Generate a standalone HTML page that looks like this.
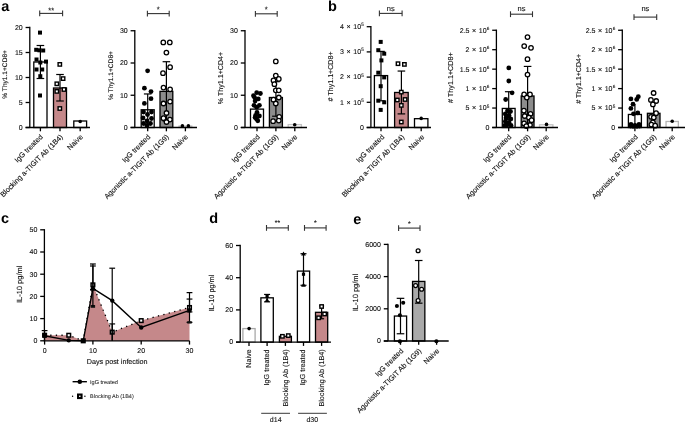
<!DOCTYPE html>
<html><head><meta charset="utf-8"><style>
html,body{margin:0;padding:0;background:#fff;overflow:hidden;}
svg{display:block;will-change:transform;font-family:"Liberation Sans", sans-serif;text-rendering:geometricPrecision;}
</style></head><body>
<svg width="685" height="422" viewBox="0 0 685 422">
<rect width="685" height="422" fill="#fff"/>
<text x="1.3" y="10.6" font-size="14.5" text-anchor="start" font-weight="bold" fill="#000">a</text>
<text x="328.1" y="10.8" font-size="14.5" text-anchor="start" font-weight="bold" fill="#000">b</text>
<text x="1.1" y="223.3" font-size="14.5" text-anchor="start" font-weight="bold" fill="#000">c</text>
<text x="209.3" y="223.3" font-size="14.5" text-anchor="start" font-weight="bold" fill="#000">d</text>
<text x="353.2" y="223.5" font-size="14.5" text-anchor="start" font-weight="bold" fill="#000">e</text>
<rect x="33.8" y="62.0" width="13.2" height="65.5" fill="#fff" stroke="#000" stroke-width="1.3"/>
<rect x="53.5" y="88.0" width="13.0" height="39.5" fill="#c5888a" stroke="#000" stroke-width="1.3"/>
<rect x="73.8" y="121.0" width="12.8" height="6.5" fill="#fff" stroke="#000" stroke-width="1.3"/>
<line x1="40.4" y1="78.5" x2="40.4" y2="45.5" stroke="#000" stroke-width="1.2"/>
<line x1="36.6" y1="45.5" x2="44.199999999999996" y2="45.5" stroke="#000" stroke-width="1.2"/>
<line x1="36.6" y1="78.5" x2="44.199999999999996" y2="78.5" stroke="#000" stroke-width="1.2"/>
<rect x="38.00" y="30.60" width="4.0" height="4.0" fill="#000"/>
<rect x="34.20" y="47.80" width="4.0" height="4.0" fill="#000"/>
<rect x="41.20" y="48.50" width="4.0" height="4.0" fill="#000"/>
<rect x="37.40" y="48.30" width="4.0" height="4.0" fill="#000"/>
<rect x="34.50" y="57.50" width="4.0" height="4.0" fill="#000"/>
<rect x="44.00" y="59.60" width="4.0" height="4.0" fill="#000"/>
<rect x="34.50" y="67.50" width="4.0" height="4.0" fill="#000"/>
<rect x="40.20" y="67.50" width="4.0" height="4.0" fill="#000"/>
<rect x="38.30" y="74.20" width="4.0" height="4.0" fill="#000"/>
<rect x="38.00" y="93.50" width="4.0" height="4.0" fill="#000"/>
<rect x="38.30" y="60.50" width="4.0" height="4.0" fill="#000"/>
<line x1="60.0" y1="101.0" x2="60.0" y2="74.5" stroke="#000" stroke-width="1.2"/>
<line x1="56.2" y1="74.5" x2="63.8" y2="74.5" stroke="#000" stroke-width="1.2"/>
<line x1="56.2" y1="101.0" x2="63.8" y2="101.0" stroke="#000" stroke-width="1.2"/>
<rect x="58.10" y="62.70" width="3.4" height="3.4" fill="#fff" stroke="#000" stroke-width="1.4"/>
<rect x="61.40" y="76.90" width="3.4" height="3.4" fill="#fff" stroke="#000" stroke-width="1.4"/>
<rect x="55.10" y="82.10" width="3.4" height="3.4" fill="#fff" stroke="#000" stroke-width="1.4"/>
<rect x="62.30" y="87.80" width="3.4" height="3.4" fill="#fff" stroke="#000" stroke-width="1.4"/>
<rect x="55.10" y="89.70" width="3.4" height="3.4" fill="#fff" stroke="#000" stroke-width="1.4"/>
<rect x="58.10" y="106.80" width="3.4" height="3.4" fill="#fff" stroke="#000" stroke-width="1.4"/>
<line x1="29.8" y1="26.85" x2="29.8" y2="127.5" stroke="#000" stroke-width="1.3"/>
<line x1="25.6" y1="127.5" x2="29.8" y2="127.5" stroke="#000" stroke-width="1.3"/>
<text x="22.700000000000003" y="129.88" font-size="7" text-anchor="end" font-weight="normal" fill="#111" stroke="#111" stroke-width="0.12">0</text>
<line x1="25.6" y1="102.5" x2="29.8" y2="102.5" stroke="#000" stroke-width="1.3"/>
<text x="22.700000000000003" y="104.88" font-size="7" text-anchor="end" font-weight="normal" fill="#111" stroke="#111" stroke-width="0.12">5</text>
<line x1="25.6" y1="77.5" x2="29.8" y2="77.5" stroke="#000" stroke-width="1.3"/>
<text x="22.700000000000003" y="79.88" font-size="7" text-anchor="end" font-weight="normal" fill="#111" stroke="#111" stroke-width="0.12">10</text>
<line x1="25.6" y1="52.5" x2="29.8" y2="52.5" stroke="#000" stroke-width="1.3"/>
<text x="22.700000000000003" y="54.88" font-size="7" text-anchor="end" font-weight="normal" fill="#111" stroke="#111" stroke-width="0.12">15</text>
<line x1="25.6" y1="27.5" x2="29.8" y2="27.5" stroke="#000" stroke-width="1.3"/>
<text x="22.700000000000003" y="29.88" font-size="7" text-anchor="end" font-weight="normal" fill="#111" stroke="#111" stroke-width="0.12">20</text>
<line x1="25.6" y1="127.5" x2="90" y2="127.5" stroke="#000" stroke-width="1.3"/>
<line x1="40.4" y1="127.5" x2="40.4" y2="131.3" stroke="#000" stroke-width="1.3"/>
<line x1="60.0" y1="127.5" x2="60.0" y2="131.3" stroke="#000" stroke-width="1.3"/>
<line x1="80.2" y1="127.5" x2="80.2" y2="131.3" stroke="#000" stroke-width="1.3"/>
<circle cx="80.20" cy="121.50" r="1.8" fill="#000"/>
<text x="7.5" y="74.4" font-size="6.6" text-anchor="middle" font-weight="normal" fill="#111" stroke="#111" stroke-width="0.12" transform="rotate(-90 7.5 74.4)">% Thy1.1+CD8+</text>
<line x1="39.7" y1="13.4" x2="62.6" y2="13.4" stroke="#333" stroke-width="1.1"/>
<line x1="39.7" y1="10.5" x2="39.7" y2="16.3" stroke="#333" stroke-width="1.1"/>
<line x1="62.6" y1="10.5" x2="62.6" y2="16.3" stroke="#333" stroke-width="1.1"/>
<text x="51.150000000000006" y="12.7" font-size="7.5" text-anchor="middle" font-weight="normal" fill="#111" stroke="#111" stroke-width="0.12">**</text>
<text x="43.3" y="137.3" font-size="7.3" text-anchor="end" font-weight="normal" fill="#111" stroke="#111" stroke-width="0.12" transform="rotate(-45 43.3 137.3)">IgG treated</text>
<text x="63.3" y="137.3" font-size="7.3" text-anchor="end" font-weight="normal" fill="#111" stroke="#111" stroke-width="0.12" transform="rotate(-45 63.3 137.3)">Blocking a-TIGIT Ab (1B4)</text>
<text x="83.3" y="137.3" font-size="7.3" text-anchor="end" font-weight="normal" fill="#111" stroke="#111" stroke-width="0.12" transform="rotate(-45 83.3 137.3)">Naive</text>
<rect x="141.2" y="109.7625" width="13.0" height="17.737499999999997" fill="#fff" stroke="#000" stroke-width="1.3"/>
<rect x="160.0" y="91.38" width="12.8" height="36.120000000000005" fill="#8c8c8c" stroke="#000" stroke-width="1.3"/>
<rect x="179.0" y="126.04875" width="12.8" height="1.4512500000000017" fill="#e0e0e0" stroke="#c4c4c4" stroke-width="1.3"/>
<line x1="147.7" y1="124.275" x2="147.7" y2="93.96000000000001" stroke="#000" stroke-width="1.2"/>
<line x1="143.89999999999998" y1="93.96000000000001" x2="151.5" y2="93.96000000000001" stroke="#000" stroke-width="1.2"/>
<line x1="143.89999999999998" y1="124.275" x2="151.5" y2="124.275" stroke="#000" stroke-width="1.2"/>
<circle cx="147.60" cy="70.80" r="2.4" fill="#000"/>
<circle cx="144.40" cy="88.20" r="2.4" fill="#000"/>
<circle cx="151.00" cy="91.60" r="2.4" fill="#000"/>
<circle cx="151.00" cy="98.70" r="2.4" fill="#000"/>
<circle cx="144.40" cy="103.40" r="2.4" fill="#000"/>
<circle cx="143.50" cy="112.00" r="2.4" fill="#000"/>
<circle cx="151.50" cy="112.00" r="2.4" fill="#000"/>
<circle cx="147.50" cy="114.50" r="2.4" fill="#000"/>
<circle cx="143.00" cy="118.00" r="2.4" fill="#000"/>
<circle cx="151.50" cy="118.50" r="2.4" fill="#000"/>
<circle cx="147.00" cy="121.00" r="2.4" fill="#000"/>
<circle cx="143.50" cy="123.50" r="2.4" fill="#000"/>
<circle cx="150.50" cy="123.50" r="2.4" fill="#000"/>
<circle cx="147.00" cy="125.50" r="2.4" fill="#000"/>
<line x1="166.4" y1="121.05" x2="166.4" y2="61.71000000000001" stroke="#000" stroke-width="1.2"/>
<line x1="162.6" y1="61.71000000000001" x2="170.20000000000002" y2="61.71000000000001" stroke="#000" stroke-width="1.2"/>
<line x1="162.6" y1="121.05" x2="170.20000000000002" y2="121.05" stroke="#000" stroke-width="1.2"/>
<circle cx="163.30" cy="42.40" r="2.25" fill="#fff" stroke="#000" stroke-width="1.3"/>
<circle cx="169.80" cy="42.40" r="2.25" fill="#fff" stroke="#000" stroke-width="1.3"/>
<circle cx="166.40" cy="52.60" r="2.25" fill="#fff" stroke="#000" stroke-width="1.3"/>
<circle cx="170.10" cy="67.20" r="2.25" fill="#fff" stroke="#000" stroke-width="1.3"/>
<circle cx="163.00" cy="73.20" r="2.25" fill="#fff" stroke="#000" stroke-width="1.3"/>
<circle cx="163.50" cy="87.60" r="2.25" fill="#fff" stroke="#000" stroke-width="1.3"/>
<circle cx="170.10" cy="89.30" r="2.25" fill="#fff" stroke="#000" stroke-width="1.3"/>
<circle cx="170.10" cy="101.60" r="2.25" fill="#fff" stroke="#000" stroke-width="1.3"/>
<circle cx="163.50" cy="103.50" r="2.25" fill="#fff" stroke="#000" stroke-width="1.3"/>
<circle cx="166.50" cy="113.00" r="2.25" fill="#fff" stroke="#000" stroke-width="1.3"/>
<circle cx="163.50" cy="118.20" r="2.25" fill="#fff" stroke="#000" stroke-width="1.3"/>
<circle cx="169.90" cy="119.60" r="2.25" fill="#fff" stroke="#000" stroke-width="1.3"/>
<circle cx="166.50" cy="122.00" r="2.25" fill="#fff" stroke="#000" stroke-width="1.3"/>
<circle cx="182.40" cy="125.90" r="1.8" fill="#000"/>
<circle cx="188.40" cy="125.90" r="1.8" fill="#000"/>
<line x1="134.8" y1="30.1" x2="134.8" y2="127.5" stroke="#000" stroke-width="1.3"/>
<line x1="130.60000000000002" y1="127.5" x2="134.8" y2="127.5" stroke="#000" stroke-width="1.3"/>
<text x="127.70000000000002" y="129.88" font-size="7" text-anchor="end" font-weight="normal" fill="#111" stroke="#111" stroke-width="0.12">0</text>
<line x1="130.60000000000002" y1="95.25" x2="134.8" y2="95.25" stroke="#000" stroke-width="1.3"/>
<text x="127.70000000000002" y="97.63" font-size="7" text-anchor="end" font-weight="normal" fill="#111" stroke="#111" stroke-width="0.12">10</text>
<line x1="130.60000000000002" y1="63.0" x2="134.8" y2="63.0" stroke="#000" stroke-width="1.3"/>
<text x="127.70000000000002" y="65.38" font-size="7" text-anchor="end" font-weight="normal" fill="#111" stroke="#111" stroke-width="0.12">20</text>
<line x1="130.60000000000002" y1="30.75" x2="134.8" y2="30.75" stroke="#000" stroke-width="1.3"/>
<text x="127.70000000000002" y="33.13" font-size="7" text-anchor="end" font-weight="normal" fill="#111" stroke="#111" stroke-width="0.12">30</text>
<line x1="130.60000000000002" y1="127.5" x2="197" y2="127.5" stroke="#000" stroke-width="1.3"/>
<line x1="147.7" y1="127.5" x2="147.7" y2="131.3" stroke="#000" stroke-width="1.3"/>
<line x1="166.4" y1="127.5" x2="166.4" y2="131.3" stroke="#000" stroke-width="1.3"/>
<line x1="185.4" y1="127.5" x2="185.4" y2="131.3" stroke="#000" stroke-width="1.3"/>
<text x="113.1" y="75.5" font-size="6.65" text-anchor="middle" font-weight="normal" fill="#111" stroke="#111" stroke-width="0.12" transform="rotate(-90 113.1 75.5)">% Thy1.1+CD8+</text>
<line x1="147.4" y1="13.6" x2="169.2" y2="13.6" stroke="#333" stroke-width="1.1"/>
<line x1="147.4" y1="10.7" x2="147.4" y2="16.5" stroke="#333" stroke-width="1.1"/>
<line x1="169.2" y1="10.7" x2="169.2" y2="16.5" stroke="#333" stroke-width="1.1"/>
<text x="158.3" y="12.4" font-size="7.5" text-anchor="middle" font-weight="normal" fill="#111" stroke="#111" stroke-width="0.12">*</text>
<text x="150.8" y="137.3" font-size="7.3" text-anchor="end" font-weight="normal" fill="#111" stroke="#111" stroke-width="0.12" transform="rotate(-45 150.8 137.3)">IgG treated</text>
<text x="169.3" y="137.3" font-size="7.3" text-anchor="end" font-weight="normal" fill="#111" stroke="#111" stroke-width="0.12" transform="rotate(-45 169.3 137.3)">Agonistic a-TIGIT Ab (1G9)</text>
<text x="188.3" y="137.3" font-size="7.3" text-anchor="end" font-weight="normal" fill="#111" stroke="#111" stroke-width="0.12" transform="rotate(-45 188.3 137.3)">Naive</text>
<rect x="250.5" y="109.1175" width="13.0" height="18.382499999999993" fill="#fff" stroke="#000" stroke-width="1.3"/>
<rect x="269.4" y="97.5075" width="13.0" height="29.992500000000007" fill="#8c8c8c" stroke="#000" stroke-width="1.3"/>
<rect x="288.2" y="124.5975" width="13.2" height="2.9025000000000034" fill="#fff" stroke="#c4c4c4" stroke-width="1.3"/>
<circle cx="256.70" cy="92.70" r="2.4" fill="#000"/>
<circle cx="260.40" cy="93.50" r="2.4" fill="#000"/>
<circle cx="253.50" cy="95.70" r="2.4" fill="#000"/>
<circle cx="254.50" cy="97.30" r="2.4" fill="#000"/>
<circle cx="258.30" cy="98.90" r="2.4" fill="#000"/>
<circle cx="255.10" cy="101.00" r="2.4" fill="#000"/>
<circle cx="254.00" cy="105.30" r="2.4" fill="#000"/>
<circle cx="259.40" cy="105.30" r="2.4" fill="#000"/>
<circle cx="256.70" cy="107.20" r="2.4" fill="#000"/>
<circle cx="255.60" cy="115.40" r="2.4" fill="#000"/>
<circle cx="259.40" cy="116.00" r="2.4" fill="#000"/>
<circle cx="256.70" cy="119.20" r="2.4" fill="#000"/>
<circle cx="255.10" cy="117.60" r="2.4" fill="#000"/>
<circle cx="257.80" cy="120.80" r="2.4" fill="#000"/>
<circle cx="257.00" cy="112.50" r="2.4" fill="#000"/>
<line x1="275.9" y1="116.2125" x2="275.9" y2="81.705" stroke="#000" stroke-width="1.2"/>
<line x1="272.09999999999997" y1="81.705" x2="279.7" y2="81.705" stroke="#000" stroke-width="1.2"/>
<line x1="272.09999999999997" y1="116.2125" x2="279.7" y2="116.2125" stroke="#000" stroke-width="1.2"/>
<circle cx="275.80" cy="61.40" r="2.25" fill="#fff" stroke="#000" stroke-width="1.3"/>
<circle cx="275.80" cy="75.60" r="2.25" fill="#fff" stroke="#000" stroke-width="1.3"/>
<circle cx="273.50" cy="80.40" r="2.25" fill="#fff" stroke="#000" stroke-width="1.3"/>
<circle cx="278.80" cy="78.90" r="2.25" fill="#fff" stroke="#000" stroke-width="1.3"/>
<circle cx="274.40" cy="84.20" r="2.25" fill="#fff" stroke="#000" stroke-width="1.3"/>
<circle cx="275.80" cy="90.30" r="2.25" fill="#fff" stroke="#000" stroke-width="1.3"/>
<circle cx="278.80" cy="90.30" r="2.25" fill="#fff" stroke="#000" stroke-width="1.3"/>
<circle cx="278.80" cy="97.50" r="2.25" fill="#fff" stroke="#000" stroke-width="1.3"/>
<circle cx="273.50" cy="99.70" r="2.25" fill="#fff" stroke="#000" stroke-width="1.3"/>
<circle cx="275.80" cy="103.50" r="2.25" fill="#fff" stroke="#000" stroke-width="1.3"/>
<circle cx="279.20" cy="116.80" r="2.25" fill="#fff" stroke="#000" stroke-width="1.3"/>
<circle cx="273.10" cy="121.20" r="2.25" fill="#fff" stroke="#000" stroke-width="1.3"/>
<circle cx="278.80" cy="120.60" r="2.25" fill="#fff" stroke="#000" stroke-width="1.3"/>
<circle cx="294.70" cy="124.80" r="1.8" fill="#000"/>
<line x1="245.0" y1="30.1" x2="245.0" y2="127.5" stroke="#000" stroke-width="1.3"/>
<line x1="240.8" y1="127.5" x2="245.0" y2="127.5" stroke="#000" stroke-width="1.3"/>
<text x="237.9" y="129.88" font-size="7" text-anchor="end" font-weight="normal" fill="#111" stroke="#111" stroke-width="0.12">0</text>
<line x1="240.8" y1="95.25" x2="245.0" y2="95.25" stroke="#000" stroke-width="1.3"/>
<text x="237.9" y="97.63" font-size="7" text-anchor="end" font-weight="normal" fill="#111" stroke="#111" stroke-width="0.12">10</text>
<line x1="240.8" y1="63.0" x2="245.0" y2="63.0" stroke="#000" stroke-width="1.3"/>
<text x="237.9" y="65.38" font-size="7" text-anchor="end" font-weight="normal" fill="#111" stroke="#111" stroke-width="0.12">20</text>
<line x1="240.8" y1="30.75" x2="245.0" y2="30.75" stroke="#000" stroke-width="1.3"/>
<text x="237.9" y="33.13" font-size="7" text-anchor="end" font-weight="normal" fill="#111" stroke="#111" stroke-width="0.12">30</text>
<line x1="240.8" y1="127.5" x2="307" y2="127.5" stroke="#000" stroke-width="1.3"/>
<line x1="257.0" y1="127.5" x2="257.0" y2="131.3" stroke="#000" stroke-width="1.3"/>
<line x1="275.9" y1="127.5" x2="275.9" y2="131.3" stroke="#000" stroke-width="1.3"/>
<line x1="294.8" y1="127.5" x2="294.8" y2="131.3" stroke="#000" stroke-width="1.3"/>
<text x="222.8" y="78.0" font-size="7.1" text-anchor="middle" font-weight="normal" fill="#111" stroke="#111" stroke-width="0.12" transform="rotate(-90 222.8 78.0)">% Thy1.1+CD4+</text>
<line x1="255.4" y1="13.8" x2="277.2" y2="13.8" stroke="#333" stroke-width="1.1"/>
<line x1="255.4" y1="10.9" x2="255.4" y2="16.7" stroke="#333" stroke-width="1.1"/>
<line x1="277.2" y1="10.9" x2="277.2" y2="16.7" stroke="#333" stroke-width="1.1"/>
<text x="266.3" y="12.4" font-size="7.5" text-anchor="middle" font-weight="normal" fill="#111" stroke="#111" stroke-width="0.12">*</text>
<text x="260.3" y="137.3" font-size="7.3" text-anchor="end" font-weight="normal" fill="#111" stroke="#111" stroke-width="0.12" transform="rotate(-45 260.3 137.3)">IgG treated</text>
<text x="278.8" y="137.3" font-size="7.3" text-anchor="end" font-weight="normal" fill="#111" stroke="#111" stroke-width="0.12" transform="rotate(-45 278.8 137.3)">Agonistic a-TIGIT Ab (1G9)</text>
<text x="297.8" y="137.3" font-size="7.3" text-anchor="end" font-weight="normal" fill="#111" stroke="#111" stroke-width="0.12" transform="rotate(-45 297.8 137.3)">Naive</text>
<rect x="374.4" y="75.588" width="13.2" height="51.912000000000006" fill="#fff" stroke="#000" stroke-width="1.3"/>
<rect x="394.59999999999997" y="92.47200000000001" width="13.6" height="35.02799999999999" fill="#c5888a" stroke="#000" stroke-width="1.3"/>
<rect x="414.5" y="118.68" width="13.4" height="8.819999999999993" fill="#fff" stroke="#000" stroke-width="1.3"/>
<line x1="381.0" y1="100.788" x2="381.0" y2="51.396" stroke="#000" stroke-width="1.2"/>
<line x1="377.2" y1="51.396" x2="384.8" y2="51.396" stroke="#000" stroke-width="1.2"/>
<line x1="377.2" y1="100.788" x2="384.8" y2="100.788" stroke="#000" stroke-width="1.2"/>
<rect x="378.70" y="39.90" width="4.0" height="4.0" fill="#000"/>
<rect x="376.30" y="48.20" width="4.0" height="4.0" fill="#000"/>
<rect x="382.20" y="51.70" width="4.0" height="4.0" fill="#000"/>
<rect x="379.40" y="58.40" width="4.0" height="4.0" fill="#000"/>
<rect x="376.30" y="70.70" width="4.0" height="4.0" fill="#000"/>
<rect x="382.20" y="75.40" width="4.0" height="4.0" fill="#000"/>
<rect x="378.70" y="84.20" width="4.0" height="4.0" fill="#000"/>
<rect x="376.30" y="98.70" width="4.0" height="4.0" fill="#000"/>
<rect x="382.20" y="100.30" width="4.0" height="4.0" fill="#000"/>
<rect x="378.70" y="107.90" width="4.0" height="4.0" fill="#000"/>
<line x1="401.4" y1="113.892" x2="401.4" y2="71.05199999999999" stroke="#000" stroke-width="1.2"/>
<line x1="397.59999999999997" y1="71.05199999999999" x2="405.2" y2="71.05199999999999" stroke="#000" stroke-width="1.2"/>
<line x1="397.59999999999997" y1="113.892" x2="405.2" y2="113.892" stroke="#000" stroke-width="1.2"/>
<rect x="396.30" y="62.00" width="3.4" height="3.4" fill="#fff" stroke="#000" stroke-width="1.4"/>
<rect x="402.70" y="62.70" width="3.4" height="3.4" fill="#fff" stroke="#000" stroke-width="1.4"/>
<rect x="399.60" y="90.40" width="3.4" height="3.4" fill="#fff" stroke="#000" stroke-width="1.4"/>
<rect x="395.60" y="98.30" width="3.4" height="3.4" fill="#fff" stroke="#000" stroke-width="1.4"/>
<rect x="403.40" y="97.80" width="3.4" height="3.4" fill="#fff" stroke="#000" stroke-width="1.4"/>
<rect x="399.60" y="103.70" width="3.4" height="3.4" fill="#fff" stroke="#000" stroke-width="1.4"/>
<rect x="399.60" y="120.30" width="3.4" height="3.4" fill="#fff" stroke="#000" stroke-width="1.4"/>
<line x1="370.9" y1="26.050000000000004" x2="370.9" y2="127.5" stroke="#000" stroke-width="1.3"/>
<line x1="366.7" y1="127.5" x2="370.9" y2="127.5" stroke="#000" stroke-width="1.3"/>
<text x="363.8" y="129.88" font-size="7" text-anchor="end" font-weight="normal" fill="#111" stroke="#111" stroke-width="0.12">0</text>
<line x1="366.7" y1="102.3" x2="370.9" y2="102.3" stroke="#000" stroke-width="1.3"/>
<text x="363.8" y="104.67999999999999" font-size="7" text-anchor="end" font-weight="normal" fill="#111" stroke="#111" stroke-width="0.12"><tspan word-spacing="0.65">1 × 10</tspan><tspan font-size="4.6" dy="-2.8" dx="0.2">5</tspan></text>
<line x1="366.7" y1="77.1" x2="370.9" y2="77.1" stroke="#000" stroke-width="1.3"/>
<text x="363.8" y="79.47999999999999" font-size="7" text-anchor="end" font-weight="normal" fill="#111" stroke="#111" stroke-width="0.12"><tspan word-spacing="0.65">2 × 10</tspan><tspan font-size="4.6" dy="-2.8" dx="0.2">5</tspan></text>
<line x1="366.7" y1="51.900000000000006" x2="370.9" y2="51.900000000000006" stroke="#000" stroke-width="1.3"/>
<text x="363.8" y="54.28000000000001" font-size="7" text-anchor="end" font-weight="normal" fill="#111" stroke="#111" stroke-width="0.12"><tspan word-spacing="0.65">3 × 10</tspan><tspan font-size="4.6" dy="-2.8" dx="0.2">5</tspan></text>
<line x1="366.7" y1="26.700000000000003" x2="370.9" y2="26.700000000000003" stroke="#000" stroke-width="1.3"/>
<text x="363.8" y="29.080000000000002" font-size="7" text-anchor="end" font-weight="normal" fill="#111" stroke="#111" stroke-width="0.12"><tspan word-spacing="0.65">4 × 10</tspan><tspan font-size="4.6" dy="-2.8" dx="0.2">5</tspan></text>
<line x1="366.7" y1="127.5" x2="431" y2="127.5" stroke="#000" stroke-width="1.3"/>
<line x1="381.0" y1="127.5" x2="381.0" y2="131.3" stroke="#000" stroke-width="1.3"/>
<line x1="401.4" y1="127.5" x2="401.4" y2="131.3" stroke="#000" stroke-width="1.3"/>
<line x1="421.2" y1="127.5" x2="421.2" y2="131.3" stroke="#000" stroke-width="1.3"/>
<circle cx="421.20" cy="118.40" r="1.8" fill="#000"/>
<text x="333.3" y="76.4" font-size="7.1" text-anchor="middle" font-weight="normal" fill="#111" stroke="#111" stroke-width="0.12" transform="rotate(-90 333.3 76.4)"># Thy1.1+CD8+</text>
<line x1="379.4" y1="13.4" x2="402.1" y2="13.4" stroke="#333" stroke-width="1.1"/>
<line x1="379.4" y1="10.5" x2="379.4" y2="16.3" stroke="#333" stroke-width="1.1"/>
<line x1="402.1" y1="10.5" x2="402.1" y2="16.3" stroke="#333" stroke-width="1.1"/>
<text x="390.75" y="10.9" font-size="7.5" text-anchor="middle" font-weight="normal" fill="#111" stroke="#111" stroke-width="0.12">ns</text>
<text x="384.8" y="137.3" font-size="7.3" text-anchor="end" font-weight="normal" fill="#111" stroke="#111" stroke-width="0.12" transform="rotate(-45 384.8 137.3)">IgG treated</text>
<text x="404.8" y="137.3" font-size="7.3" text-anchor="end" font-weight="normal" fill="#111" stroke="#111" stroke-width="0.12" transform="rotate(-45 404.8 137.3)">Blocking a-TIGIT Ab (1B4)</text>
<text x="424.8" y="137.3" font-size="7.3" text-anchor="end" font-weight="normal" fill="#111" stroke="#111" stroke-width="0.12" transform="rotate(-45 424.8 137.3)">Naive</text>
<rect x="502.3" y="108.439" width="12.8" height="19.061000000000007" fill="#fff" stroke="#000" stroke-width="1.3"/>
<rect x="521.2" y="95.991" width="12.8" height="31.509" fill="#8c8c8c" stroke="#000" stroke-width="1.3"/>
<rect x="539.5" y="124.777" width="13.4" height="2.722999999999999" fill="#fff" stroke="#c4c4c4" stroke-width="1.3"/>
<line x1="508.7" y1="119.72" x2="508.7" y2="91.712" stroke="#000" stroke-width="1.2"/>
<line x1="504.9" y1="91.712" x2="512.5" y2="91.712" stroke="#000" stroke-width="1.2"/>
<line x1="504.9" y1="119.72" x2="512.5" y2="119.72" stroke="#000" stroke-width="1.2"/>
<circle cx="508.80" cy="67.90" r="2.4" fill="#000"/>
<circle cx="508.80" cy="81.00" r="2.4" fill="#000"/>
<circle cx="512.10" cy="92.80" r="2.4" fill="#000"/>
<circle cx="505.70" cy="99.50" r="2.4" fill="#000"/>
<circle cx="507.50" cy="110.80" r="2.4" fill="#000"/>
<circle cx="510.50" cy="111.50" r="2.4" fill="#000"/>
<circle cx="505.30" cy="114.00" r="2.4" fill="#000"/>
<circle cx="509.00" cy="115.50" r="2.4" fill="#000"/>
<circle cx="506.00" cy="118.00" r="2.4" fill="#000"/>
<circle cx="510.80" cy="119.00" r="2.4" fill="#000"/>
<circle cx="505.30" cy="121.50" r="2.4" fill="#000"/>
<circle cx="509.00" cy="122.50" r="2.4" fill="#000"/>
<circle cx="507.00" cy="125.00" r="2.4" fill="#000"/>
<circle cx="511.00" cy="125.50" r="2.4" fill="#000"/>
<circle cx="504.80" cy="125.30" r="2.4" fill="#000"/>
<line x1="527.6" y1="123.61" x2="527.6" y2="66.42699999999999" stroke="#000" stroke-width="1.2"/>
<line x1="523.8000000000001" y1="66.42699999999999" x2="531.4" y2="66.42699999999999" stroke="#000" stroke-width="1.2"/>
<line x1="523.8000000000001" y1="123.61" x2="531.4" y2="123.61" stroke="#000" stroke-width="1.2"/>
<circle cx="527.50" cy="37.10" r="2.25" fill="#fff" stroke="#000" stroke-width="1.3"/>
<circle cx="524.20" cy="46.10" r="2.25" fill="#fff" stroke="#000" stroke-width="1.3"/>
<circle cx="531.00" cy="47.80" r="2.25" fill="#fff" stroke="#000" stroke-width="1.3"/>
<circle cx="527.50" cy="59.20" r="2.25" fill="#fff" stroke="#000" stroke-width="1.3"/>
<circle cx="527.50" cy="74.60" r="2.25" fill="#fff" stroke="#000" stroke-width="1.3"/>
<circle cx="524.10" cy="94.40" r="2.25" fill="#fff" stroke="#000" stroke-width="1.3"/>
<circle cx="530.00" cy="94.40" r="2.25" fill="#fff" stroke="#000" stroke-width="1.3"/>
<circle cx="526.80" cy="97.60" r="2.25" fill="#fff" stroke="#000" stroke-width="1.3"/>
<circle cx="523.90" cy="110.60" r="2.25" fill="#fff" stroke="#000" stroke-width="1.3"/>
<circle cx="530.50" cy="113.80" r="2.25" fill="#fff" stroke="#000" stroke-width="1.3"/>
<circle cx="524.70" cy="116.00" r="2.25" fill="#fff" stroke="#000" stroke-width="1.3"/>
<circle cx="528.90" cy="117.50" r="2.25" fill="#fff" stroke="#000" stroke-width="1.3"/>
<circle cx="531.60" cy="120.20" r="2.25" fill="#fff" stroke="#000" stroke-width="1.3"/>
<circle cx="524.10" cy="123.40" r="2.25" fill="#fff" stroke="#000" stroke-width="1.3"/>
<circle cx="530.00" cy="125.00" r="2.25" fill="#fff" stroke="#000" stroke-width="1.3"/>
<circle cx="526.30" cy="126.10" r="2.25" fill="#fff" stroke="#000" stroke-width="1.3"/>
<circle cx="546.50" cy="124.40" r="1.8" fill="#000"/>
<line x1="496.4" y1="29.6" x2="496.4" y2="127.5" stroke="#000" stroke-width="1.3"/>
<line x1="492.2" y1="127.5" x2="496.4" y2="127.5" stroke="#000" stroke-width="1.3"/>
<text x="489.3" y="129.88" font-size="7" text-anchor="end" font-weight="normal" fill="#111" stroke="#111" stroke-width="0.12">0</text>
<line x1="492.2" y1="108.05" x2="496.4" y2="108.05" stroke="#000" stroke-width="1.3"/>
<text x="489.3" y="110.42999999999999" font-size="7" text-anchor="end" font-weight="normal" fill="#111" stroke="#111" stroke-width="0.12"><tspan word-spacing="0.65">5 × 10</tspan><tspan font-size="4.6" dy="-2.8" dx="0.2">5</tspan></text>
<line x1="492.2" y1="88.6" x2="496.4" y2="88.6" stroke="#000" stroke-width="1.3"/>
<text x="489.3" y="90.97999999999999" font-size="7" text-anchor="end" font-weight="normal" fill="#111" stroke="#111" stroke-width="0.12"><tspan word-spacing="0.65">1 × 10</tspan><tspan font-size="4.6" dy="-2.8" dx="0.2">6</tspan></text>
<line x1="492.2" y1="69.15" x2="496.4" y2="69.15" stroke="#000" stroke-width="1.3"/>
<text x="489.3" y="71.53" font-size="7" text-anchor="end" font-weight="normal" fill="#111" stroke="#111" stroke-width="0.12"><tspan word-spacing="0.65">1.5 × 10</tspan><tspan font-size="4.6" dy="-2.8" dx="0.2">6</tspan></text>
<line x1="492.2" y1="49.7" x2="496.4" y2="49.7" stroke="#000" stroke-width="1.3"/>
<text x="489.3" y="52.080000000000005" font-size="7" text-anchor="end" font-weight="normal" fill="#111" stroke="#111" stroke-width="0.12"><tspan word-spacing="0.65">2 × 10</tspan><tspan font-size="4.6" dy="-2.8" dx="0.2">6</tspan></text>
<line x1="492.2" y1="30.25" x2="496.4" y2="30.25" stroke="#000" stroke-width="1.3"/>
<text x="489.3" y="32.63" font-size="7" text-anchor="end" font-weight="normal" fill="#111" stroke="#111" stroke-width="0.12"><tspan word-spacing="0.65">2.5 × 10</tspan><tspan font-size="4.6" dy="-2.8" dx="0.2">6</tspan></text>
<line x1="492.2" y1="127.5" x2="558" y2="127.5" stroke="#000" stroke-width="1.3"/>
<line x1="508.7" y1="127.5" x2="508.7" y2="131.3" stroke="#000" stroke-width="1.3"/>
<line x1="527.6" y1="127.5" x2="527.6" y2="131.3" stroke="#000" stroke-width="1.3"/>
<line x1="546.2" y1="127.5" x2="546.2" y2="131.3" stroke="#000" stroke-width="1.3"/>
<text x="453.3" y="77.6" font-size="7.2" text-anchor="middle" font-weight="normal" fill="#111" stroke="#111" stroke-width="0.12" transform="rotate(-90 453.3 77.6)"># Thy1.1+CD8+</text>
<line x1="510.5" y1="14.2" x2="532.5" y2="14.2" stroke="#333" stroke-width="1.1"/>
<line x1="510.5" y1="11.299999999999999" x2="510.5" y2="17.099999999999998" stroke="#333" stroke-width="1.1"/>
<line x1="532.5" y1="11.299999999999999" x2="532.5" y2="17.099999999999998" stroke="#333" stroke-width="1.1"/>
<text x="521.5" y="10.6" font-size="7.5" text-anchor="middle" font-weight="normal" fill="#111" stroke="#111" stroke-width="0.12">ns</text>
<text x="511.8" y="137.3" font-size="7.3" text-anchor="end" font-weight="normal" fill="#111" stroke="#111" stroke-width="0.12" transform="rotate(-45 511.8 137.3)">IgG treated</text>
<text x="530.8" y="137.3" font-size="7.3" text-anchor="end" font-weight="normal" fill="#111" stroke="#111" stroke-width="0.12" transform="rotate(-45 530.8 137.3)">Agonistic a-TIGIT Ab (1G9)</text>
<text x="549.3" y="137.3" font-size="7.3" text-anchor="end" font-weight="normal" fill="#111" stroke="#111" stroke-width="0.12" transform="rotate(-45 549.3 137.3)">Naive</text>
<rect x="628.4" y="114.4685" width="13.0" height="13.031499999999994" fill="#fff" stroke="#000" stroke-width="1.3"/>
<rect x="647.4000000000001" y="113.3015" width="12.6" height="14.198499999999996" fill="#8c8c8c" stroke="#000" stroke-width="1.3"/>
<rect x="666.0500000000001" y="121.4705" width="12.3" height="6.029499999999999" fill="#fff" stroke="#b4b4b4" stroke-width="1.3"/>
<line x1="634.9" y1="126.722" x2="634.9" y2="104.16" stroke="#000" stroke-width="1.2"/>
<line x1="634.89" y1="104.16" x2="634.91" y2="104.16" stroke="#000" stroke-width="1.2"/>
<line x1="634.89" y1="126.722" x2="634.91" y2="126.722" stroke="#000" stroke-width="1.2"/>
<circle cx="630.90" cy="98.90" r="2.4" fill="#000"/>
<circle cx="638.30" cy="96.70" r="2.4" fill="#000"/>
<circle cx="636.70" cy="99.40" r="2.4" fill="#000"/>
<circle cx="633.00" cy="104.20" r="2.4" fill="#000"/>
<circle cx="630.90" cy="108.40" r="2.4" fill="#000"/>
<circle cx="633.50" cy="113.80" r="2.4" fill="#000"/>
<circle cx="637.80" cy="112.90" r="2.4" fill="#000"/>
<circle cx="631.00" cy="124.50" r="2.4" fill="#000"/>
<circle cx="635.00" cy="125.30" r="2.4" fill="#000"/>
<circle cx="639.00" cy="124.50" r="2.4" fill="#000"/>
<circle cx="633.00" cy="126.30" r="2.4" fill="#000"/>
<circle cx="637.00" cy="126.30" r="2.4" fill="#000"/>
<circle cx="630.50" cy="126.00" r="2.4" fill="#000"/>
<circle cx="639.50" cy="126.00" r="2.4" fill="#000"/>
<line x1="653.7" y1="125.555" x2="653.7" y2="106.105" stroke="#000" stroke-width="1.2"/>
<line x1="653.69" y1="106.105" x2="653.71" y2="106.105" stroke="#000" stroke-width="1.2"/>
<line x1="653.69" y1="125.555" x2="653.71" y2="125.555" stroke="#000" stroke-width="1.2"/>
<circle cx="653.60" cy="93.00" r="2.25" fill="#fff" stroke="#000" stroke-width="1.3"/>
<circle cx="650.90" cy="99.90" r="2.25" fill="#fff" stroke="#000" stroke-width="1.3"/>
<circle cx="656.20" cy="101.00" r="2.25" fill="#fff" stroke="#000" stroke-width="1.3"/>
<circle cx="652.90" cy="104.40" r="2.25" fill="#fff" stroke="#000" stroke-width="1.3"/>
<circle cx="656.10" cy="113.20" r="2.25" fill="#fff" stroke="#000" stroke-width="1.3"/>
<circle cx="651.10" cy="116.80" r="2.25" fill="#fff" stroke="#000" stroke-width="1.3"/>
<circle cx="653.80" cy="117.50" r="2.25" fill="#fff" stroke="#000" stroke-width="1.3"/>
<circle cx="652.90" cy="122.30" r="2.25" fill="#fff" stroke="#000" stroke-width="1.3"/>
<circle cx="651.40" cy="124.60" r="2.25" fill="#fff" stroke="#000" stroke-width="1.3"/>
<circle cx="655.20" cy="125.70" r="2.25" fill="#fff" stroke="#000" stroke-width="1.3"/>
<circle cx="672.20" cy="121.20" r="1.8" fill="#000"/>
<line x1="622.3" y1="29.6" x2="622.3" y2="127.5" stroke="#000" stroke-width="1.3"/>
<line x1="618.0999999999999" y1="127.5" x2="622.3" y2="127.5" stroke="#000" stroke-width="1.3"/>
<text x="615.1999999999999" y="129.88" font-size="7" text-anchor="end" font-weight="normal" fill="#111" stroke="#111" stroke-width="0.12">0</text>
<line x1="618.0999999999999" y1="108.05" x2="622.3" y2="108.05" stroke="#000" stroke-width="1.3"/>
<text x="615.1999999999999" y="110.42999999999999" font-size="7" text-anchor="end" font-weight="normal" fill="#111" stroke="#111" stroke-width="0.12"><tspan word-spacing="0.65">5 × 10</tspan><tspan font-size="4.6" dy="-2.8" dx="0.2">5</tspan></text>
<line x1="618.0999999999999" y1="88.6" x2="622.3" y2="88.6" stroke="#000" stroke-width="1.3"/>
<text x="615.1999999999999" y="90.97999999999999" font-size="7" text-anchor="end" font-weight="normal" fill="#111" stroke="#111" stroke-width="0.12"><tspan word-spacing="0.65">1 × 10</tspan><tspan font-size="4.6" dy="-2.8" dx="0.2">6</tspan></text>
<line x1="618.0999999999999" y1="69.15" x2="622.3" y2="69.15" stroke="#000" stroke-width="1.3"/>
<text x="615.1999999999999" y="71.53" font-size="7" text-anchor="end" font-weight="normal" fill="#111" stroke="#111" stroke-width="0.12"><tspan word-spacing="0.65">1.5 × 10</tspan><tspan font-size="4.6" dy="-2.8" dx="0.2">6</tspan></text>
<line x1="618.0999999999999" y1="49.7" x2="622.3" y2="49.7" stroke="#000" stroke-width="1.3"/>
<text x="615.1999999999999" y="52.080000000000005" font-size="7" text-anchor="end" font-weight="normal" fill="#111" stroke="#111" stroke-width="0.12"><tspan word-spacing="0.65">2 × 10</tspan><tspan font-size="4.6" dy="-2.8" dx="0.2">6</tspan></text>
<line x1="618.0999999999999" y1="30.25" x2="622.3" y2="30.25" stroke="#000" stroke-width="1.3"/>
<text x="615.1999999999999" y="32.63" font-size="7" text-anchor="end" font-weight="normal" fill="#111" stroke="#111" stroke-width="0.12"><tspan word-spacing="0.65">2.5 × 10</tspan><tspan font-size="4.6" dy="-2.8" dx="0.2">6</tspan></text>
<line x1="618.0999999999999" y1="127.5" x2="685" y2="127.5" stroke="#000" stroke-width="1.3"/>
<line x1="634.9" y1="127.5" x2="634.9" y2="131.3" stroke="#000" stroke-width="1.3"/>
<line x1="653.7" y1="127.5" x2="653.7" y2="131.3" stroke="#000" stroke-width="1.3"/>
<line x1="672.2" y1="127.5" x2="672.2" y2="131.3" stroke="#000" stroke-width="1.3"/>
<text x="581.0" y="78.8" font-size="7.1" text-anchor="middle" font-weight="normal" fill="#111" stroke="#111" stroke-width="0.12" transform="rotate(-90 581.0 78.8)"># Thy1.1+CD4+</text>
<line x1="634.0" y1="17.1" x2="656.7" y2="17.1" stroke="#333" stroke-width="1.1"/>
<line x1="634.0" y1="14.200000000000001" x2="634.0" y2="20.0" stroke="#333" stroke-width="1.1"/>
<line x1="656.7" y1="14.200000000000001" x2="656.7" y2="20.0" stroke="#333" stroke-width="1.1"/>
<text x="645.35" y="10.6" font-size="7.5" text-anchor="middle" font-weight="normal" fill="#111" stroke="#111" stroke-width="0.12">ns</text>
<text x="638.3" y="137.3" font-size="7.3" text-anchor="end" font-weight="normal" fill="#111" stroke="#111" stroke-width="0.12" transform="rotate(-45 638.3 137.3)">IgG treated</text>
<text x="656.8" y="137.3" font-size="7.3" text-anchor="end" font-weight="normal" fill="#111" stroke="#111" stroke-width="0.12" transform="rotate(-45 656.8 137.3)">Agonistic a-TIGIT Ab (1G9)</text>
<text x="675.3" y="137.3" font-size="7.3" text-anchor="end" font-weight="normal" fill="#111" stroke="#111" stroke-width="0.12" transform="rotate(-45 675.3 137.3)">Naive</text>
<polygon points="44.60,340.8 44.60,335.25 68.75,335.25 83.24,340.80 92.90,284.86 112.22,332.14 141.20,320.60 189.50,307.50 189.50,340.8" fill="#c5888a"/>
<polyline points="44.60,335.25 68.75,335.25 83.24,340.80 92.90,284.86 112.22,332.14 141.20,320.60 189.50,307.50" fill="none" stroke="#000" stroke-width="1.3" stroke-dasharray="1.3,4.3" stroke-linecap="butt"/>
<rect x="42.80" y="333.45" width="3.6" height="3.6" fill="#fff" stroke="#000" stroke-width="1.5"/>
<rect x="66.95" y="333.45" width="3.6" height="3.6" fill="#fff" stroke="#000" stroke-width="1.5"/>
<rect x="81.44" y="339.00" width="3.6" height="3.6" fill="#fff" stroke="#000" stroke-width="1.5"/>
<rect x="91.10" y="283.06" width="3.6" height="3.6" fill="#fff" stroke="#000" stroke-width="1.5"/>
<rect x="110.42" y="330.34" width="3.6" height="3.6" fill="#fff" stroke="#000" stroke-width="1.5"/>
<rect x="139.40" y="318.80" width="3.6" height="3.6" fill="#fff" stroke="#000" stroke-width="1.5"/>
<rect x="187.70" y="305.70" width="3.6" height="3.6" fill="#fff" stroke="#000" stroke-width="1.5"/>
<line x1="44.6" y1="340.8" x2="44.6" y2="330.588" stroke="#000" stroke-width="1.2"/>
<line x1="41.7" y1="330.588" x2="47.5" y2="330.588" stroke="#000" stroke-width="1.2"/>
<line x1="92.9" y1="289.74" x2="92.9" y2="263.988" stroke="#000" stroke-width="1.2"/>
<line x1="90.0" y1="263.988" x2="95.80000000000001" y2="263.988" stroke="#000" stroke-width="1.2"/>
<line x1="90.0" y1="289.74" x2="95.80000000000001" y2="289.74" stroke="#000" stroke-width="1.2"/>
<line x1="92.9" y1="289.74" x2="92.9" y2="265.986" stroke="#000" stroke-width="1.2"/>
<line x1="90.0" y1="265.986" x2="95.80000000000001" y2="265.986" stroke="#000" stroke-width="1.2"/>
<line x1="90.0" y1="289.74" x2="95.80000000000001" y2="289.74" stroke="#000" stroke-width="1.2"/>
<rect x="90.70" y="304.99" width="4.4" height="2.8" fill="#111"/>
<line x1="92.9" y1="306.39" x2="92.9" y2="289.74" stroke="#000" stroke-width="1.2"/>
<line x1="112.22" y1="340.8" x2="112.22" y2="268.206" stroke="#000" stroke-width="1.2"/>
<line x1="109.32" y1="268.206" x2="115.12" y2="268.206" stroke="#000" stroke-width="1.2"/>
<line x1="112.22" y1="340.8" x2="112.22" y2="323.928" stroke="#000" stroke-width="1.2"/>
<line x1="109.32" y1="323.928" x2="115.12" y2="323.928" stroke="#000" stroke-width="1.2"/>
<line x1="189.5" y1="322.374" x2="189.5" y2="292.62600000000003" stroke="#000" stroke-width="1.2"/>
<line x1="186.6" y1="292.62600000000003" x2="192.4" y2="292.62600000000003" stroke="#000" stroke-width="1.2"/>
<line x1="186.6" y1="322.374" x2="192.4" y2="322.374" stroke="#000" stroke-width="1.2"/>
<line x1="189.5" y1="311.94" x2="189.5" y2="299.064" stroke="#000" stroke-width="1.2"/>
<line x1="186.6" y1="299.064" x2="192.4" y2="299.064" stroke="#000" stroke-width="1.2"/>
<line x1="186.6" y1="311.94" x2="192.4" y2="311.94" stroke="#000" stroke-width="1.2"/>
<rect x="187.30" y="321.17" width="4.4" height="2.4" fill="#111"/>
<polyline points="44.60,335.69 68.75,340.36 83.24,340.80 92.90,288.41 112.22,300.62 141.20,327.48 189.50,310.39" fill="none" stroke="#000" stroke-width="1.4"/>
<circle cx="44.60" cy="335.69" r="2.2" fill="#000"/>
<circle cx="68.75" cy="340.36" r="2.2" fill="#000"/>
<circle cx="83.24" cy="340.80" r="2.2" fill="#000"/>
<circle cx="92.90" cy="288.41" r="2.2" fill="#000"/>
<circle cx="112.22" cy="300.62" r="2.2" fill="#000"/>
<circle cx="141.20" cy="327.48" r="2.2" fill="#000"/>
<circle cx="189.50" cy="310.39" r="2.2" fill="#000"/>
<line x1="44.4" y1="229.15" x2="44.4" y2="340.8" stroke="#000" stroke-width="1.3"/>
<line x1="40.199999999999996" y1="340.8" x2="44.4" y2="340.8" stroke="#000" stroke-width="1.3"/>
<text x="37.3" y="343.18" font-size="7" text-anchor="end" font-weight="normal" fill="#111" stroke="#111" stroke-width="0.12">0</text>
<line x1="40.199999999999996" y1="318.6" x2="44.4" y2="318.6" stroke="#000" stroke-width="1.3"/>
<text x="37.3" y="320.98" font-size="7" text-anchor="end" font-weight="normal" fill="#111" stroke="#111" stroke-width="0.12">10</text>
<line x1="40.199999999999996" y1="296.4" x2="44.4" y2="296.4" stroke="#000" stroke-width="1.3"/>
<text x="37.3" y="298.78" font-size="7" text-anchor="end" font-weight="normal" fill="#111" stroke="#111" stroke-width="0.12">20</text>
<line x1="40.199999999999996" y1="274.2" x2="44.4" y2="274.2" stroke="#000" stroke-width="1.3"/>
<text x="37.3" y="276.58" font-size="7" text-anchor="end" font-weight="normal" fill="#111" stroke="#111" stroke-width="0.12">30</text>
<line x1="40.199999999999996" y1="252.0" x2="44.4" y2="252.0" stroke="#000" stroke-width="1.3"/>
<text x="37.3" y="254.38" font-size="7" text-anchor="end" font-weight="normal" fill="#111" stroke="#111" stroke-width="0.12">40</text>
<line x1="40.199999999999996" y1="229.8" x2="44.4" y2="229.8" stroke="#000" stroke-width="1.3"/>
<text x="37.3" y="232.18" font-size="7" text-anchor="end" font-weight="normal" fill="#111" stroke="#111" stroke-width="0.12">50</text>
<line x1="43.75" y1="340.8" x2="189.5" y2="340.8" stroke="#000" stroke-width="1.3"/>
<line x1="44.6" y1="340.8" x2="44.6" y2="344.6" stroke="#000" stroke-width="1.3"/>
<text x="44.6" y="353" font-size="7" text-anchor="middle" font-weight="normal" fill="#111" stroke="#111" stroke-width="0.12">0</text>
<line x1="92.9" y1="340.8" x2="92.9" y2="344.6" stroke="#000" stroke-width="1.3"/>
<text x="92.9" y="353" font-size="7" text-anchor="middle" font-weight="normal" fill="#111" stroke="#111" stroke-width="0.12">10</text>
<line x1="141.2" y1="340.8" x2="141.2" y2="344.6" stroke="#000" stroke-width="1.3"/>
<text x="141.2" y="353" font-size="7" text-anchor="middle" font-weight="normal" fill="#111" stroke="#111" stroke-width="0.12">20</text>
<line x1="189.5" y1="340.8" x2="189.5" y2="344.6" stroke="#000" stroke-width="1.3"/>
<text x="189.5" y="353" font-size="7" text-anchor="middle" font-weight="normal" fill="#111" stroke="#111" stroke-width="0.12">30</text>
<text x="117.2" y="364" font-size="7.2" text-anchor="middle" font-weight="normal" fill="#111" stroke="#111" stroke-width="0.12">Days post infection</text>
<text x="22.1" y="284.3" font-size="7.5" text-anchor="middle" font-weight="normal" fill="#111" stroke="#111" stroke-width="0.12" transform="rotate(-90 22.1 284.3)">IL-10 pg/ml</text>
<line x1="72.6" y1="381.7" x2="86.9" y2="381.7" stroke="#000" stroke-width="1.4"/>
<circle cx="79.8" cy="381.7" r="2.3" fill="#000"/>
<text x="90" y="383.7" font-size="5.6" text-anchor="start" font-weight="normal" fill="#222" stroke="#222" stroke-width="0.05">IgG treated</text>
<circle cx="72.6" cy="396.3" r="0.7" fill="#000"/>
<circle cx="84.9" cy="396.3" r="0.7" fill="#000"/>
<rect x="78.05" y="394.55" width="3.5" height="3.5" fill="#fff" stroke="#000" stroke-width="2.1"/>
<text x="90" y="398.4" font-size="5.5" text-anchor="start" font-weight="normal" fill="#222" stroke="#222" stroke-width="0.05">Blocking Ab (1B4)</text>
<rect x="242.9" y="328.576" width="12.2" height="13.524000000000001" fill="#fff" stroke="#a8a8a8" stroke-width="1.3"/>
<rect x="260.90000000000003" y="297.82500000000005" width="12.4" height="44.27499999999998" fill="#fff" stroke="#000" stroke-width="1.3"/>
<rect x="279.4" y="336.30400000000003" width="12.0" height="5.795999999999992" fill="#c5888a" stroke="#000" stroke-width="1.3"/>
<rect x="297.4" y="271.09900000000005" width="12.2" height="71.00099999999998" fill="#fff" stroke="#000" stroke-width="1.3"/>
<rect x="315.5" y="312.315" width="12.2" height="29.785000000000025" fill="#c5888a" stroke="#000" stroke-width="1.3"/>
<circle cx="249.10" cy="328.60" r="1.8" fill="#000"/>
<line x1="267.1" y1="301.85" x2="267.1" y2="294.444" stroke="#000" stroke-width="1.2"/>
<line x1="264.1" y1="294.444" x2="270.1" y2="294.444" stroke="#000" stroke-width="1.2"/>
<line x1="264.1" y1="301.85" x2="270.1" y2="301.85" stroke="#000" stroke-width="1.2"/>
<rect x="265.50" y="294.70" width="3.2" height="3.2" fill="#000"/>
<path d="M264.70,301.90L269.50,301.90L267.10,297.80Z" fill="#000"/>
<rect x="280.70" y="334.60" width="3.4" height="3.4" fill="#fff" stroke="#000" stroke-width="1.4"/>
<rect x="286.60" y="333.90" width="3.4" height="3.4" fill="#fff" stroke="#000" stroke-width="1.4"/>
<line x1="303.5" y1="285.26700000000005" x2="303.5" y2="253.711" stroke="#000" stroke-width="1.2"/>
<line x1="300.5" y1="253.711" x2="306.5" y2="253.711" stroke="#000" stroke-width="1.2"/>
<line x1="300.5" y1="285.26700000000005" x2="306.5" y2="285.26700000000005" stroke="#000" stroke-width="1.2"/>
<path d="M301.10,255.50L305.90,255.50L303.50,251.40Z" fill="#000"/>
<rect x="301.90" y="272.60" width="3.2" height="3.2" fill="#000"/>
<path d="M301.10,286.80L305.90,286.80L303.50,282.70Z" fill="#000"/>
<line x1="321.6" y1="318.755" x2="321.6" y2="305.875" stroke="#000" stroke-width="1.2"/>
<line x1="319.1" y1="305.875" x2="324.1" y2="305.875" stroke="#000" stroke-width="1.2"/>
<line x1="319.1" y1="318.755" x2="324.1" y2="318.755" stroke="#000" stroke-width="1.2"/>
<rect x="319.90" y="304.80" width="3.4" height="3.4" fill="#fff" stroke="#000" stroke-width="1.4"/>
<rect x="322.90" y="312.30" width="3.4" height="3.4" fill="#fff" stroke="#000" stroke-width="1.4"/>
<rect x="316.90" y="316.10" width="3.4" height="3.4" fill="#fff" stroke="#000" stroke-width="1.4"/>
<line x1="240.2" y1="244.85" x2="240.2" y2="342.1" stroke="#000" stroke-width="1.3"/>
<line x1="236.0" y1="342.1" x2="240.2" y2="342.1" stroke="#000" stroke-width="1.3"/>
<text x="233.1" y="344.48" font-size="7" text-anchor="end" font-weight="normal" fill="#111" stroke="#111" stroke-width="0.12">0</text>
<line x1="236.0" y1="309.90000000000003" x2="240.2" y2="309.90000000000003" stroke="#000" stroke-width="1.3"/>
<text x="233.1" y="312.28000000000003" font-size="7" text-anchor="end" font-weight="normal" fill="#111" stroke="#111" stroke-width="0.12">20</text>
<line x1="236.0" y1="277.70000000000005" x2="240.2" y2="277.70000000000005" stroke="#000" stroke-width="1.3"/>
<text x="233.1" y="280.08000000000004" font-size="7" text-anchor="end" font-weight="normal" fill="#111" stroke="#111" stroke-width="0.12">40</text>
<line x1="236.0" y1="245.5" x2="240.2" y2="245.5" stroke="#000" stroke-width="1.3"/>
<text x="233.1" y="247.88" font-size="7" text-anchor="end" font-weight="normal" fill="#111" stroke="#111" stroke-width="0.12">60</text>
<line x1="236.0" y1="342.1" x2="331" y2="342.1" stroke="#000" stroke-width="1.3"/>
<line x1="249.0" y1="342.1" x2="249.0" y2="345.90000000000003" stroke="#000" stroke-width="1.3"/>
<line x1="267.1" y1="342.1" x2="267.1" y2="345.90000000000003" stroke="#000" stroke-width="1.3"/>
<line x1="285.4" y1="342.1" x2="285.4" y2="345.90000000000003" stroke="#000" stroke-width="1.3"/>
<line x1="303.5" y1="342.1" x2="303.5" y2="345.90000000000003" stroke="#000" stroke-width="1.3"/>
<line x1="321.6" y1="342.1" x2="321.6" y2="345.90000000000003" stroke="#000" stroke-width="1.3"/>
<text x="214.0" y="293" font-size="7.3" text-anchor="middle" font-weight="normal" fill="#111" stroke="#111" stroke-width="0.12" transform="rotate(-90 214.0 293)">IL-10 pg/ml</text>
<line x1="266.5" y1="227.9" x2="288.3" y2="227.9" stroke="#333" stroke-width="1.1"/>
<line x1="266.5" y1="225.0" x2="266.5" y2="230.8" stroke="#333" stroke-width="1.1"/>
<line x1="288.3" y1="225.0" x2="288.3" y2="230.8" stroke="#333" stroke-width="1.1"/>
<text x="277.4" y="225.3" font-size="6.8" text-anchor="middle" font-weight="normal" fill="#111" stroke="#111" stroke-width="0.12">**</text>
<line x1="304.5" y1="227.9" x2="326.1" y2="227.9" stroke="#333" stroke-width="1.1"/>
<line x1="304.5" y1="225.0" x2="304.5" y2="230.8" stroke="#333" stroke-width="1.1"/>
<line x1="326.1" y1="225.0" x2="326.1" y2="230.8" stroke="#333" stroke-width="1.1"/>
<text x="315.3" y="225.0" font-size="6.8" text-anchor="middle" font-weight="normal" fill="#111" stroke="#111" stroke-width="0.12">*</text>
<text x="250.9" y="349.4" font-size="7.2" text-anchor="end" font-weight="normal" fill="#111" stroke="#111" stroke-width="0.12" transform="rotate(-90 250.9 349.4)">Naive</text>
<text x="269.09999999999997" y="349.4" font-size="7.2" text-anchor="end" font-weight="normal" fill="#111" stroke="#111" stroke-width="0.12" transform="rotate(-90 269.09999999999997 349.4)">IgG treated</text>
<text x="287.59999999999997" y="349.4" font-size="7.2" text-anchor="end" font-weight="normal" fill="#111" stroke="#111" stroke-width="0.12" transform="rotate(-90 287.59999999999997 349.4)">Blocking Ab (1B4)</text>
<text x="305.5" y="349.4" font-size="7.2" text-anchor="end" font-weight="normal" fill="#111" stroke="#111" stroke-width="0.12" transform="rotate(-90 305.5 349.4)">IgG treated</text>
<text x="324.0" y="349.4" font-size="7.2" text-anchor="end" font-weight="normal" fill="#111" stroke="#111" stroke-width="0.12" transform="rotate(-90 324.0 349.4)">Blocking Ab (1B4)</text>
<line x1="261.2" y1="413.3" x2="290.0" y2="413.3" stroke="#222" stroke-width="0.9"/>
<line x1="298.1" y1="413.3" x2="326.9" y2="413.3" stroke="#222" stroke-width="0.9"/>
<text x="275.7" y="422" font-size="7" text-anchor="middle" font-weight="normal" fill="#111" stroke="#111" stroke-width="0.12">d14</text>
<text x="312.3" y="422" font-size="7" text-anchor="middle" font-weight="normal" fill="#111" stroke="#111" stroke-width="0.12">d30</text>
<rect x="394.4" y="316.045" width="12.2" height="24.954999999999984" fill="#fff" stroke="#000" stroke-width="1.3"/>
<rect x="412.55" y="281.43" width="12.3" height="59.56999999999999" fill="#a9a9a9" stroke="#000" stroke-width="1.3"/>
<rect x="436.6" y="341.0" width="0" height="0.0" fill="#fff" stroke="#000" stroke-width="1.3"/>
<line x1="400.5" y1="333.755" x2="400.5" y2="298.335" stroke="#000" stroke-width="1.2"/>
<line x1="396.7" y1="298.335" x2="404.3" y2="298.335" stroke="#000" stroke-width="1.2"/>
<line x1="396.7" y1="333.755" x2="404.3" y2="333.755" stroke="#000" stroke-width="1.2"/>
<circle cx="396.90" cy="306.00" r="2.05" fill="#000"/>
<circle cx="403.20" cy="302.80" r="2.05" fill="#000"/>
<circle cx="399.90" cy="315.20" r="2.05" fill="#000"/>
<circle cx="399.90" cy="341.40" r="2.05" fill="#000"/>
<line x1="418.7" y1="303.165" x2="418.7" y2="260.5" stroke="#000" stroke-width="1.2"/>
<line x1="414.9" y1="260.5" x2="422.5" y2="260.5" stroke="#000" stroke-width="1.2"/>
<line x1="414.9" y1="303.165" x2="422.5" y2="303.165" stroke="#000" stroke-width="1.2"/>
<circle cx="418.10" cy="250.70" r="1.95" fill="#fff" stroke="#000" stroke-width="1.25"/>
<circle cx="415.60" cy="285.60" r="1.95" fill="#fff" stroke="#000" stroke-width="1.25"/>
<circle cx="421.60" cy="289.30" r="1.95" fill="#fff" stroke="#000" stroke-width="1.25"/>
<circle cx="418.10" cy="300.50" r="1.95" fill="#fff" stroke="#000" stroke-width="1.25"/>
<circle cx="436.40" cy="341.30" r="2.05" fill="#000"/>
<line x1="388.0" y1="243.75" x2="388.0" y2="341.0" stroke="#000" stroke-width="1.3"/>
<line x1="383.8" y1="341.0" x2="388.0" y2="341.0" stroke="#000" stroke-width="1.3"/>
<text x="380.90000000000003" y="343.38" font-size="7" text-anchor="end" font-weight="normal" fill="#111" stroke="#111" stroke-width="0.12">0</text>
<line x1="383.8" y1="308.8" x2="388.0" y2="308.8" stroke="#000" stroke-width="1.3"/>
<text x="380.90000000000003" y="311.18" font-size="7" text-anchor="end" font-weight="normal" fill="#111" stroke="#111" stroke-width="0.12">2000</text>
<line x1="383.8" y1="276.6" x2="388.0" y2="276.6" stroke="#000" stroke-width="1.3"/>
<text x="380.90000000000003" y="278.98" font-size="7" text-anchor="end" font-weight="normal" fill="#111" stroke="#111" stroke-width="0.12">4000</text>
<line x1="383.8" y1="244.4" x2="388.0" y2="244.4" stroke="#000" stroke-width="1.3"/>
<text x="380.90000000000003" y="246.78" font-size="7" text-anchor="end" font-weight="normal" fill="#111" stroke="#111" stroke-width="0.12">6000</text>
<line x1="383.8" y1="341.0" x2="448.7" y2="341.0" stroke="#000" stroke-width="1.3"/>
<line x1="400.5" y1="341.0" x2="400.5" y2="344.8" stroke="#000" stroke-width="1.3"/>
<line x1="418.7" y1="341.0" x2="418.7" y2="344.8" stroke="#000" stroke-width="1.3"/>
<line x1="436.6" y1="341.0" x2="436.6" y2="344.8" stroke="#000" stroke-width="1.3"/>
<text x="358.1" y="292.5" font-size="7.5" text-anchor="middle" font-weight="normal" fill="#111" stroke="#111" stroke-width="0.12" transform="rotate(-90 358.1 292.5)">IL-10 pg/ml</text>
<line x1="398.6" y1="228.1" x2="420.0" y2="228.1" stroke="#333" stroke-width="1.1"/>
<line x1="398.6" y1="225.2" x2="398.6" y2="231.0" stroke="#333" stroke-width="1.1"/>
<line x1="420.0" y1="225.2" x2="420.0" y2="231.0" stroke="#333" stroke-width="1.1"/>
<text x="409.3" y="225.6" font-size="6.8" text-anchor="middle" font-weight="normal" fill="#111" stroke="#111" stroke-width="0.12">*</text>
<text x="403.8" y="351.3" font-size="7.3" text-anchor="end" font-weight="normal" fill="#111" stroke="#111" stroke-width="0.12" transform="rotate(-45 403.8 351.3)">IgG treated</text>
<text x="421.8" y="351.3" font-size="7.3" text-anchor="end" font-weight="normal" fill="#111" stroke="#111" stroke-width="0.12" transform="rotate(-45 421.8 351.3)">Agonistic a-TIGIT Ab (1G9)</text>
<text x="439.8" y="351.3" font-size="7.3" text-anchor="end" font-weight="normal" fill="#111" stroke="#111" stroke-width="0.12" transform="rotate(-45 439.8 351.3)">Naive</text>
</svg>
</body></html>
